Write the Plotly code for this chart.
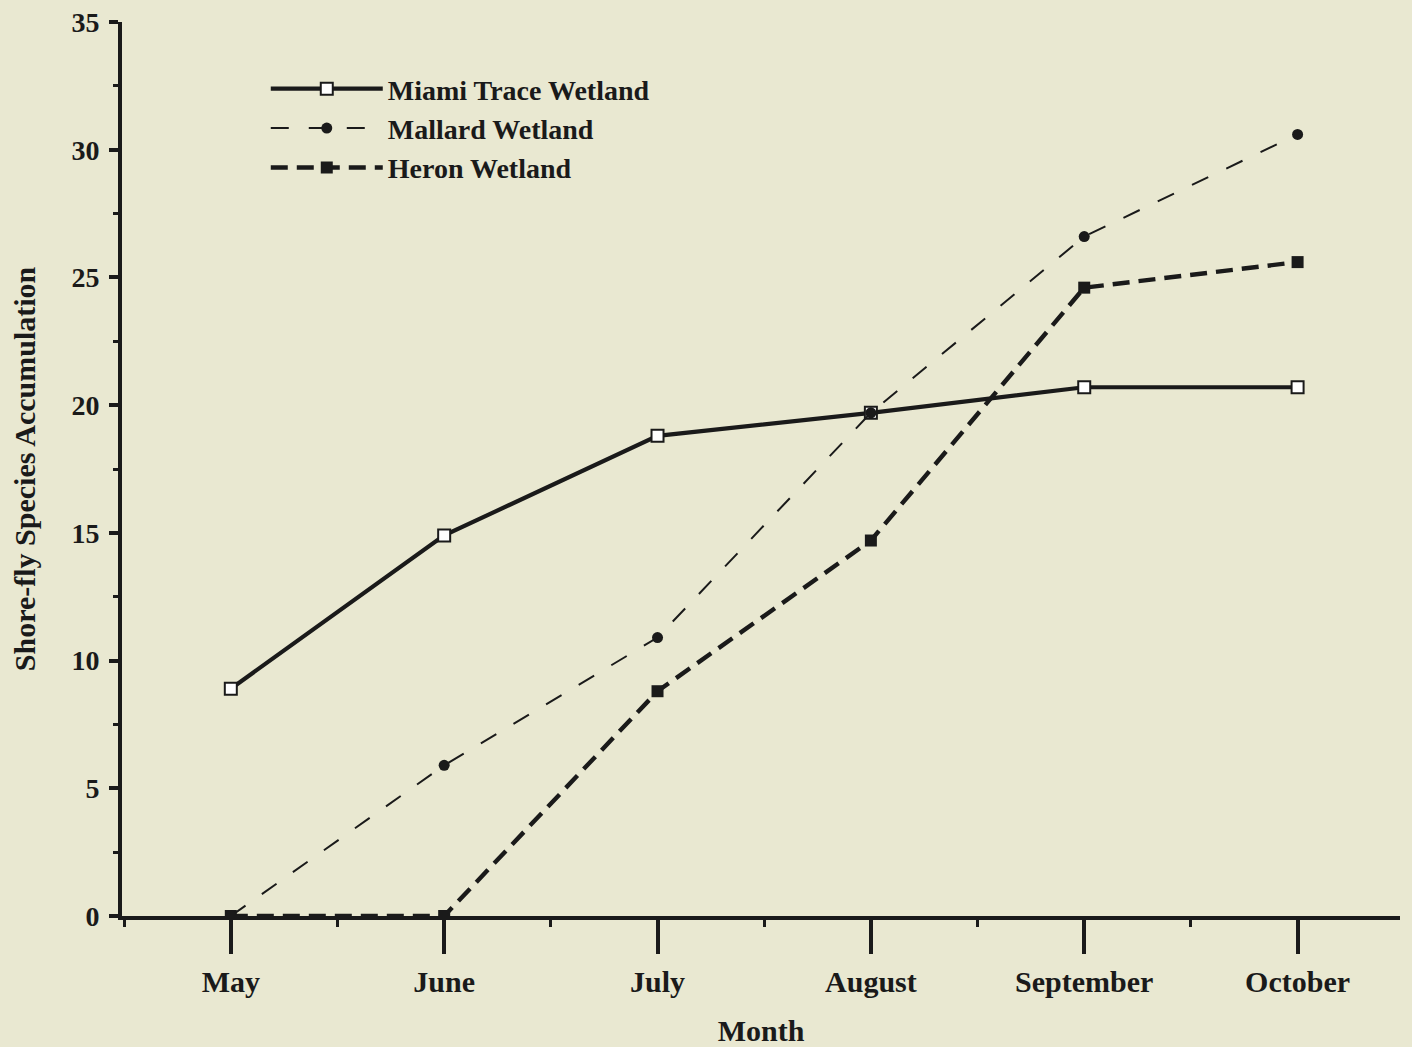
import plotly.graph_objects as go

months = ["May", "June", "July", "August", "September", "October"]
miami = [8.9, 14.9, 18.8, 19.7, 20.7, 20.7]
mallard = [0, 5.9, 10.9, 19.7, 26.6, 30.6]
heron = [0, 0, 8.8, 14.7, 24.6, 25.6]
yticks = [0, 5, 10, 15, 20, 25, 30, 35]

x = list(range(len(months)))
BG = "#E9E8D1"
INK = "#1a1a1a"
FONT = "Liberation Serif"

fig = go.Figure()
fig.add_trace(go.Scatter(
    x=x, y=miami, name="Miami Trace Wetland", mode="lines+markers",
    line=dict(color=INK, width=4.2),
    marker=dict(symbol="square", size=12, color="white", line=dict(color=INK, width=2)),
    legendrank=1))
fig.add_trace(go.Scatter(
    x=x, y=heron, name="Heron Wetland", mode="lines+markers",
    line=dict(color=INK, width=4.4, dash="17px,9px"),
    marker=dict(symbol="square", size=12, color=INK), legendrank=3))
fig.add_trace(go.Scatter(
    x=x, y=mallard, name="Mallard Wetland", mode="lines+markers",
    line=dict(color=INK, width=2, dash="18px,20px"),
    marker=dict(symbol="circle", size=11, color=INK), legendrank=2))

fig.update_layout(
    width=1412, height=1047,
    paper_bgcolor=BG, plot_bgcolor=BG,
    margin=dict(l=122, r=12, t=22, b=131, autoexpand=False),
    font=dict(family=FONT, size=28, color=INK),
    showlegend=True,
    legend=dict(x=0.1125, y=0.953, xanchor="left", yanchor="top",
                bgcolor="rgba(0,0,0,0)", font=dict(family=FONT, size=28, color=INK, weight="bold"),
                itemwidth=112, tracegroupgap=0),
    xaxis=dict(
        range=[-0.51, 5.48], tickvals=x, ticktext=[f"<b>{m}</b>" for m in months],
        showgrid=False, zeroline=False, showline=True, linecolor=INK, linewidth=4,
        ticks="outside", ticklen=34, tickwidth=4, tickcolor=INK, automargin=False,
        tickfont=dict(family=FONT, size=30, color=INK), ticklabelstandoff=2,
        minor=dict(tick0=0.5, dtick=1, ticks="outside", ticklen=7, tickwidth=3, tickcolor=INK),
        title=dict(text="<b>Month</b>", font=dict(family=FONT, size=30, color=INK), standoff=24),
    ),
    yaxis=dict(
        range=[0, 35], tickvals=yticks, ticktext=[f"<b>{v}</b>" for v in yticks],
        showgrid=False, zeroline=False, showline=True, linecolor=INK, linewidth=4,
        ticks="outside", ticklen=9, tickwidth=4, tickcolor=INK, automargin=False,
        tickfont=dict(family=FONT, size=28, color=INK), ticklabelstandoff=4,
        minor=dict(tick0=2.5, dtick=5, ticks="outside", ticklen=5, tickwidth=3, tickcolor=INK),
        title=dict(text="<b>Shore-fly Species Accumulation</b>", font=dict(family=FONT, size=30, color=INK), standoff=28),
    ),
)

fig.write_html(
    "out.html",
    config={"displayModeBar": False},
    post_script="document.body.style.margin='0';document.body.style.background='" + BG + "';",
)
